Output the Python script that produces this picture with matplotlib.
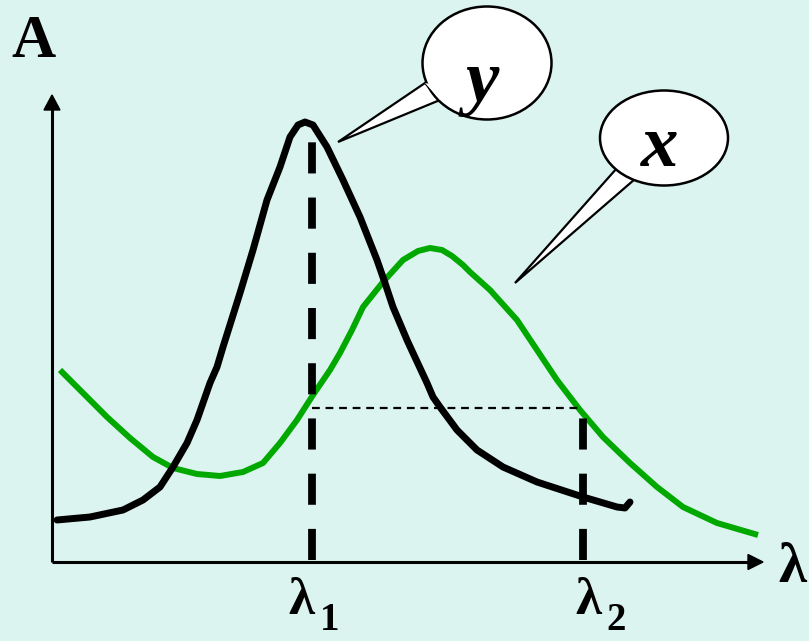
import numpy as np
import matplotlib.pyplot as plt
from matplotlib.patches import Ellipse, Polygon

# curve y (black): wavelength, absorbance
y_lam = [5, 38, 71, 91, 108, 121, 135, 145, 158, 165, 171, 188, 201, 215, 228, 238, 246, 253,
         261, 275, 291, 308, 325, 333, 341, 355, 361, 375, 381, 388, 405, 425, 451, 485, 531,
         565, 573, 578]
y_abs = [42, 45, 52, 62, 75, 95, 119, 142, 179, 195, 215, 269, 312, 362, 395, 425, 437, 440,
         437, 415, 382, 345, 302, 279, 255, 222, 209, 179, 165, 155, 132, 112, 95, 80, 65,
         55, 54, 60]

# curve x (green)
x_lam = [8, 31, 55, 78, 101, 121, 145, 168, 191, 211, 228, 245, 261, 278, 288, 300, 311, 331,
         351, 366, 378, 390, 400, 411, 418, 438, 465, 485, 505, 528, 551, 578, 605, 631, 665, 706]
x_abs = [192, 169, 145, 124, 105, 94, 88, 86, 90, 99, 119, 142, 167, 192, 209, 232, 255, 280,
         302, 311, 314, 312, 306, 297, 290, 272, 242, 212, 182, 152, 125, 99, 75, 55, 39, 27]

lam1 = 260
lam2 = 531
level = 154

bg = '#dcf4ef'
green = '#00a800'

fig = plt.figure(figsize=(8.09, 6.41), dpi=100, facecolor=bg)
ax = fig.add_axes([0, 0, 1, 1])
ax.set_facecolor(bg)
ax.set_xlim(-52, 757)
ax.set_ylim(-79, 562)
ax.axis('off')

serif = ['Liberation Serif', 'DejaVu Serif']

# axes with arrow heads
ax.plot([0, 0], [0, 455], color='black', lw=2.2, solid_capstyle='butt')
ax.plot([0, 700], [0, 0], color='black', lw=2.2, solid_capstyle='butt')
ax.add_patch(Polygon([[-8, 452], [8, 452], [0, 467]], closed=True, color='black'))
ax.add_patch(Polygon([[696, 7.5], [696, -7.5], [711, 0]], closed=True, color='black'))

ax.text(-19, 520, 'A', fontsize=44, fontweight='bold', family=serif, ha='center', va='center')
ax.text(740, -6, 'λ', fontsize=41, fontweight='bold', family=serif, ha='center', va='center')

# curves
ax.plot(y_lam, y_abs, color='black', lw=5, solid_capstyle='round', solid_joinstyle='round', zorder=3)
ax.plot(x_lam, x_abs, color=green, lw=4.3, solid_capstyle='butt', solid_joinstyle='round', zorder=2)

# wavelength markers
ax.plot([lam1, lam1], [2, 425], color='black', lw=5.6, dashes=(4, 3.1), zorder=4)
ax.plot([lam2, lam2], [2, level], color='black', lw=5.6, dashes=(4, 3.1), zorder=4)
ax.plot([lam1, lam2], [level, level], color='black', lw=1.6, dashes=(3.5, 2.6), zorder=4)

ax.text(lam1 - 11, -39, 'λ', fontsize=38, fontweight='bold', family=serif, ha='center', va='center')
ax.text(lam1 + 8, -59, '1', fontsize=28, fontweight='bold', family=serif, ha='left', va='center')
ax.text(lam2 + 5, -39, 'λ', fontsize=38, fontweight='bold', family=serif, ha='center', va='center')
ax.text(lam2 + 23, -59, '2', fontsize=28, fontweight='bold', family=serif, ha='left', va='center')

# callout bubbles
def bubble(cx, cy, w, h, tail, base1, base2, label, tx, ty):
    ax.add_patch(Polygon([base1, tail, base2], closed=True, facecolor='white',
                         edgecolor='black', lw=1.6, zorder=5))
    ax.add_patch(Ellipse((cx, cy), w, h, facecolor='white', edgecolor='black', lw=1.8, zorder=6))
    mid = [(base1[0] + base2[0]) / 2 + 6, (base1[1] + base2[1]) / 2 + 6]
    ax.add_patch(Polygon([base1, mid, base2], closed=True, facecolor='white',
                         edgecolor='none', zorder=7))
    ax.text(tx, ty, label, fontsize=54, fontweight='bold', style='italic',
            family=serif, ha='center', va='center', zorder=8)

bubble(435, 499, 129, 113, [286, 420], [373, 479], [388, 462], 'y', 430, 479)
bubble(612, 424, 128, 95, [463, 279], [565, 394], [583, 383], 'x', 608, 414)

fig.savefig('out.png', dpi=100, facecolor=bg)
